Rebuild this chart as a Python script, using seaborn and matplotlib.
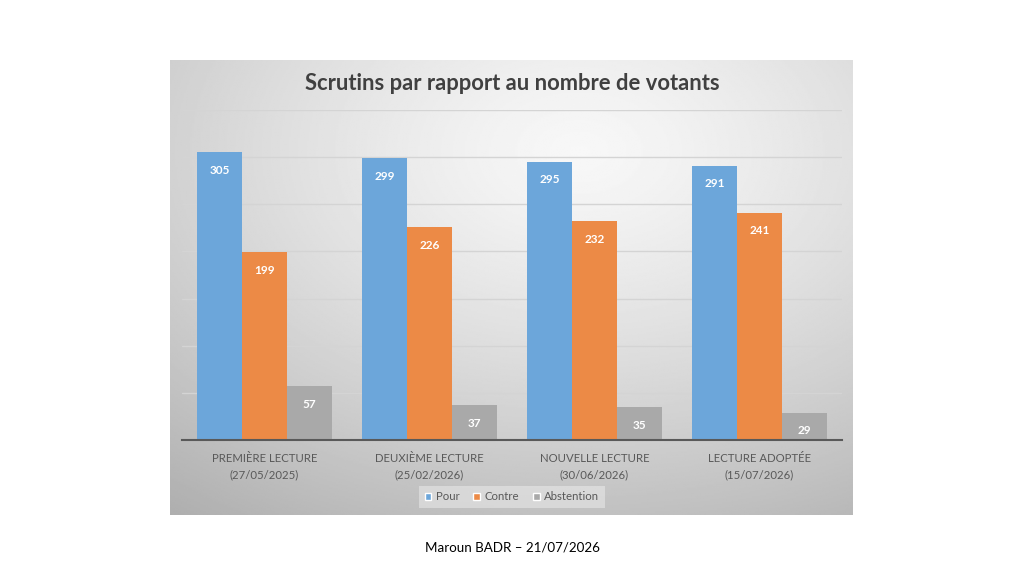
import numpy as np
import pandas as pd
import matplotlib.pyplot as plt
import seaborn as sns

categories = ["PREMIÈRE LECTURE\n(27/05/2025)", "DEUXIÈME LECTURE\n(25/02/2026)",
              "NOUVELLE LECTURE\n(30/06/2026)", "LECTURE ADOPTÉE\n(15/07/2026)"]
series = ["Pour", "Contre", "Abstention"]
pour = [305, 299, 295, 291]
contre = [199, 226, 232, 241]
abstention = [57, 37, 35, 29]
colors = ["#6CA6DA", "#EC8A46", "#A9A9A9"]

df = pd.DataFrame({
    "cat": categories * 3,
    "serie": [s for s in series for _ in categories],
    "val": pour + contre + abstention,
})

sns.set_theme(style="white")
plt.rcParams["font.family"] = ["Lato", "DejaVu Sans"]

W, H = 1024, 576
fig = plt.figure(figsize=(W / 100, H / 100), dpi=100)
fig.patch.set_facecolor("white")

# panel background with radial gradient
px0, py0, px1, py1 = 170, 60, 853, 515
bg = fig.add_axes([px0 / W, 1 - py1 / H, (px1 - px0) / W, (py1 - py0) / H])
yy, xx = np.mgrid[0:1:300j, 0:1:450j]
r = np.sqrt(((xx - 0.6) / 0.9) ** 2 + ((yy - 0.2) / 0.9) ** 2)
shade = np.clip(0.97 - 0.25 * r ** 1.3, 0, 1)
bg.imshow(shade, cmap="gray", vmin=0, vmax=1, aspect="auto", extent=[0, 1, 1, 0])
bg.set_axis_off()

ax0, ay0, ax1, ay1 = 182, 110, 842, 440
ax = fig.add_axes([ax0 / W, 1 - ay1 / H, (ax1 - ax0) / W, (ay1 - ay0) / H])
ax.set_facecolor("none")

sns.barplot(data=df, x="cat", y="val", hue="serie", palette=colors,
            width=0.82, gap=0, saturation=1, ax=ax, legend=True)

ax.set_ylim(0, 350)
ax.set_yticks(np.arange(0, 351, 50))
ax.yaxis.grid(True, color="#D4D4D4", linewidth=1)
ax.set_axisbelow(True)
ax.tick_params(axis="y", left=False, labelleft=False)
ax.tick_params(axis="x", bottom=False, labelsize=8.2, colors="#595959", pad=3)
for lab in ax.get_xticklabels():
    lab.set_linespacing(1.6)
for s in ["top", "right", "left"]:
    ax.spines[s].set_visible(False)
ax.spines["bottom"].set_color("#595959")
ax.spines["bottom"].set_linewidth(1.5)
ax.set_xlabel("")
ax.set_ylabel("")

for c in ax.containers:
    for p in c:
        p.set_edgecolor("none")
    ax.bar_label(c, padding=-17, color="white", fontweight="bold", fontsize=8.5)

leg = ax.legend(loc="center", bbox_to_anchor=(0.5, (440 - 497) / (ay1 - ay0)),
                ncol=3, frameon=True, fontsize=8.2, handlelength=0.6, handleheight=0.6,
                handletextpad=0.4, columnspacing=1.2, borderpad=0.5)
leg.get_frame().set_facecolor("#EEEEEE")
leg.get_frame().set_alpha(0.5)
leg.get_frame().set_edgecolor("none")
leg.get_frame().set_boxstyle("square", pad=0)
for t in leg.get_texts():
    t.set_color("#595959")

fig.text(512 / W, 1 - 83 / H, "Scrutins par rapport au nombre de votants",
         ha="center", va="center", fontsize=15.8, fontweight="bold", color="#404040")
fig.text(512 / W, 1 - 548 / H, "Maroun BADR – 21/07/2026",
         ha="center", va="center", fontsize=9.6, color="black")

fig.savefig("out.png", dpi=100)
